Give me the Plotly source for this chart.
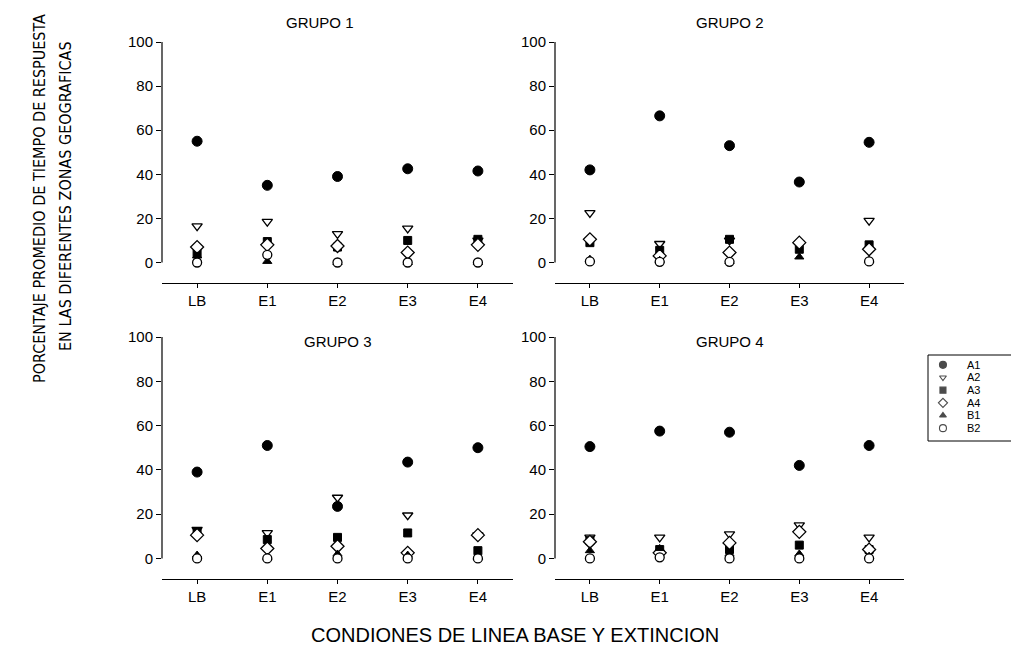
import plotly.graph_objects as go

categories = ["LB", "E1", "E2", "E3", "E4"]
series_names = ["A1", "A2", "A3", "A4", "B1", "B2"]

# GRUPO 1
g1_A1 = [55, 35, 39, 42.5, 41.5]
g1_A2 = [16.5, 18.5, 13, 15.5, 10]
g1_A3 = [4, 9.5, 7, 10, 10.5]
g1_A4 = [7, 8, 7.5, 4.5, 8]
g1_B1 = [3, 0.5, 0, 0, 0]
g1_B2 = [0, 3.5, 0, 0, 0]

# GRUPO 2
g2_A1 = [42, 66.5, 53, 36.5, 54.5]
g2_A2 = [22.5, 8.5, 10, 8.5, 19]
g2_A3 = [9, 5.5, 10.5, 6, 8]
g2_A4 = [10.5, 3, 4.5, 9, 6]
g2_B1 = [1.5, 1, 0.5, 2.5, 1]
g2_B2 = [0.5, 0.3, 0.3, None, 0.5]

# GRUPO 3
g3_A1 = [39, 51, 23.5, 43.5, 50]
g3_A2 = [13, 11.5, 27.5, 19.5, 10.5]
g3_A3 = [12, 8.5, 9.5, 11.5, 3.5]
g3_A4 = [10.5, 4.5, 5.5, 2.5, 10.5]
g3_B1 = [1.5, 0.5, 2, 1.5, 0.5]
g3_B2 = [0, 0, 0, 0, 0]

# GRUPO 4
g4_A1 = [50.5, 57.5, 57, 42, 51]
g4_A2 = [9.5, 9.5, 11, 15, 9.5]
g4_A3 = [8, 4, 4, 6, 4]
g4_A4 = [7.5, 2.5, 7, 12, 4]
g4_B1 = [3.5, 4.5, 2, 2, 1]
g4_B2 = [0, 0.5, 0, 0, 0]

group_titles = ["GRUPO 1", "GRUPO 2", "GRUPO 3", "GRUPO 4"]
group_data = [
    [g1_A1, g1_A2, g1_A3, g1_A4, g1_B1, g1_B2],
    [g2_A1, g2_A2, g2_A3, g2_A4, g2_B1, g2_B2],
    [g3_A1, g3_A2, g3_A3, g3_A4, g3_B1, g3_B2],
    [g4_A1, g4_A2, g4_A3, g4_A4, g4_B1, g4_B2],
]

y_ticks = [0, 20, 40, 60, 80, 100]

W, H = 1019, 671
OFF = 8  # page body margin
FONT = "Liberation Sans, Arial, sans-serif"
NARROW = "Liberation Sans Narrow, Arial Narrow, DejaVu Sans Condensed, sans-serif"


def fx(px):
    return (px - OFF) / W


def fy(py):
    return 1 - (py - OFF) / H


symbols = {
    "A1": dict(symbol="circle", color="black", line=dict(color="black", width=1)),
    "A2": dict(symbol="triangle-down", color="white", line=dict(color="black", width=1.3)),
    "A3": dict(symbol="square", color="black", line=dict(color="black", width=1)),
    "A4": dict(symbol="diamond", color="white", line=dict(color="black", width=1.3)),
    "B1": dict(symbol="triangle-up", color="black", line=dict(color="black", width=1)),
    "B2": dict(symbol="circle", color="white", line=dict(color="black", width=1.3)),
}
sizes = {"A1": 10, "A2": 9, "A3": 8, "A4": 10, "B1": 8, "B2": 9}

# page-pixel boxes (left, right, top, bottom) for each panel
boxes = [
    (162, 513, 42, 283),
    (555, 904, 42, 283),
    (162, 513, 337, 579),
    (555, 904, 337, 579),
]
title_x = [1.75, 2, 2, 2]
title_y = [22, 22, 341, 341]

fig = go.Figure()
layout = {}
shapes = []
annotations = []

for i, (title, data, (l, r, t, b)) in enumerate(zip(group_titles, group_data, boxes)):
    ax = "" if i == 0 else str(i + 1)
    xa, ya = "x" + ax, "y" + ax
    for name, vals in zip(series_names, data):
        fig.add_trace(go.Scatter(
            x=categories, y=vals, mode="markers", name=name,
            xaxis=xa, yaxis=ya, showlegend=False,
            marker=dict(size=sizes[name], **symbols[name]),
            cliponaxis=False, hoverinfo="x+y+name",
        ))
    layout["xaxis" + ax] = dict(
        domain=[fx(l), fx(r)], anchor=ya, type="category",
        categoryorder="array", categoryarray=categories,
        range=[-0.5, 4.5], showline=True, linecolor="black", linewidth=1,
        ticks="outside", ticklen=4, tickcolor="black", showgrid=False,
        zeroline=False, automargin=False,
        tickfont=dict(family=FONT, size=15, color="black"),
    )
    layout["yaxis" + ax] = dict(
        domain=[fy(b), fy(t)], anchor=xa,
        range=[-9.3, 100], tickvals=y_ticks, ticks="outside", ticklen=5,
        tickcolor="black", showline=False, showgrid=False, zeroline=False,
        automargin=False,
        tickfont=dict(family=FONT, size=15, color="black"),
    )
    shapes.append(dict(type="line", xref=xa + " domain", yref=ya,
                       x0=0, x1=0, y0=0, y1=100,
                       line=dict(color="black", width=1.2)))
    annotations.append(dict(
        text=title, xref=xa, yref="paper", x=title_x[i],
        y=fy(title_y[i]), xanchor="center", yanchor="middle", showarrow=False,
        font=dict(family=FONT, size=15, color="black"),
    ))

# manual legend drawn on its own small axes
leg_l, leg_r, leg_t, leg_b = 928, 962, 358.5, 434.5
fig.add_trace(go.Scatter(
    x=[0] * len(series_names), y=series_names, mode="markers",
    xaxis="x5", yaxis="y5", showlegend=False, hoverinfo="y",
    marker=dict(
        size=[7 if n in ("A1", "B2", "A4") else 6 for n in series_names],
        symbol=[symbols[n]["symbol"] for n in series_names],
        color=[symbols[n]["color"] for n in series_names],
        line=dict(color="black", width=1.1),
    ),
    cliponaxis=False,
))
layout["xaxis5"] = dict(domain=[fx(leg_l), fx(leg_r)], anchor="y5",
                        range=[-0.44, 0.56], visible=False, automargin=False)
layout["yaxis5"] = dict(domain=[fy(leg_b), fy(leg_t)], anchor="x5",
                        type="category", categoryorder="array",
                        categoryarray=series_names, range=[5.5, -0.5],
                        tickmode="array", tickvals=series_names,
                        ticktext=series_names,
                        side="right", showline=False, showgrid=False,
                        zeroline=False, ticks="", ticklabelstandoff=4,
                        automargin=False,
                        tickfont=dict(family=FONT, size=11, color="black"))
shapes.append(dict(type="rect", xref="paper", yref="paper",
                   x0=fx(928), x1=1.0, y0=fy(441), y1=fy(355),
                   line=dict(color="black", width=1), fillcolor="rgba(0,0,0,0)"))

annotations.append(dict(
    text="CONDIONES DE LINEA BASE Y EXTINCION", xref="paper", yref="paper",
    x=fx(515), y=fy(635), xanchor="center", yanchor="middle", showarrow=False,
    font=dict(family=FONT, size=20, color="black"),
))
annotations.append(dict(
    text="PORCENTAJE PROMEDIO DE TIEMPO DE RESPUESTA",
    xref="paper", yref="paper", x=fx(40), y=fy(199), textangle=-90,
    xanchor="center", yanchor="middle", showarrow=False,
    font=dict(family=NARROW, size=16, color="black"),
))
annotations.append(dict(
    text="EN LAS DIFERENTES ZONAS GEOGRAFICAS",
    xref="paper", yref="paper", x=fx(66), y=fy(196), textangle=-90,
    xanchor="center", yanchor="middle", showarrow=False,
    font=dict(family=NARROW, size=16, color="black"),
))

fig.update_layout(
    width=W, height=H, margin=dict(l=0, r=0, t=0, b=0, pad=0),
    paper_bgcolor="white", plot_bgcolor="white", showlegend=False,
    shapes=shapes, annotations=annotations,
    **layout,
)

fig.write_html("out.html")
